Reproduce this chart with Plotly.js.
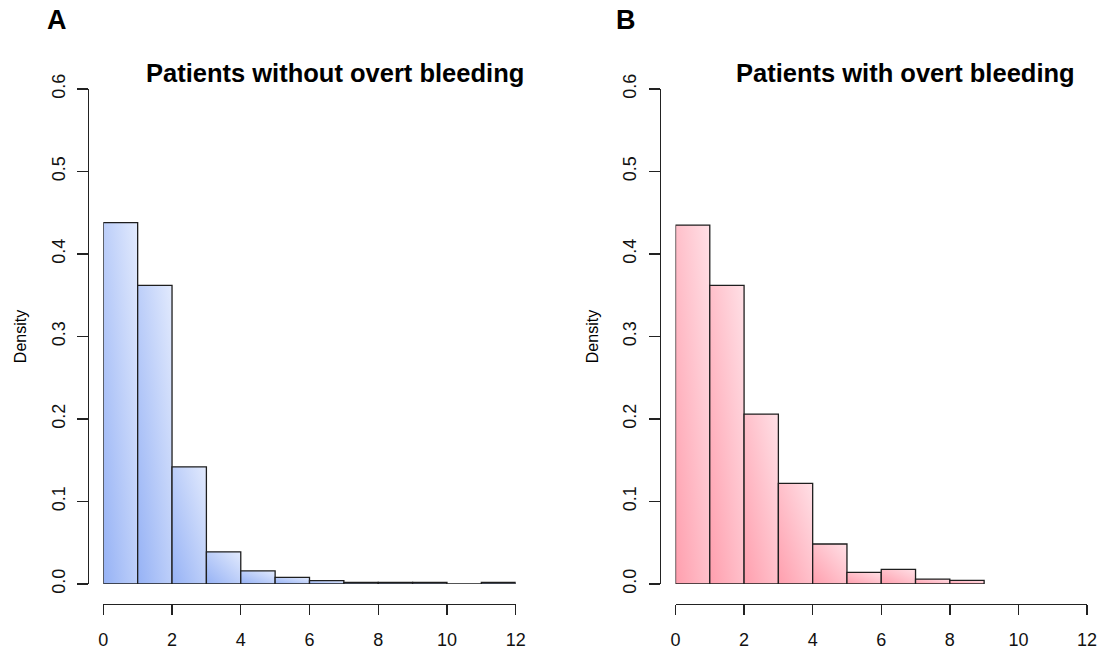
<!DOCTYPE html>
<html>
<head>
<meta charset="utf-8">
<script src="https://cdn.plot.ly/plotly-3.0.1.min.js"></script>
<style>
  html, body { margin: 0; padding: 0; background: #ffffff; }
  #chart { width: 1107px; height: 657px; }
</style>
</head>
<body>
<div id="chart"></div>
<script>
// ---- Data ----
const binEdgesA = [0, 1, 2, 3, 4, 5, 6, 7, 8, 9, 10, 11, 12];
const densityA  = [0.438, 0.362, 0.142, 0.039, 0.0158, 0.0081, 0.004, 0.002, 0.0019, 0.0019, 0.0002, 0.002];
const binEdgesB = [0, 1, 2, 3, 4, 5, 6, 7, 8, 9];
const densityB  = [0.435, 0.362, 0.206, 0.122, 0.0485, 0.0142, 0.0178, 0.006, 0.0045];
const xTicks = [0, 2, 4, 6, 8, 10, 12];
const yTicks = [0.0, 0.1, 0.2, 0.3, 0.4, 0.5, 0.6];
const titleA = "Patients without overt bleeding";
const titleB = "Patients with overt bleeding";
const panelA = "A";
const panelB = "B";
const yLabel = "Density";

// ---- Layout helpers ----
const W = 1107, H = 657;
const px = v => v / W;
const py = v => 1 - v / H;

function centers(edges) {
  const c = [];
  for (let i = 0; i < edges.length - 1; i++) c.push((edges[i] + edges[i + 1]) / 2);
  return c;
}
function widths(edges) {
  const w = [];
  for (let i = 0; i < edges.length - 1; i++) w.push(edges[i + 1] - edges[i]);
  return w;
}

const barLine = { color: '#1e1e1e', width: 1.3 };

const traces = [
  {
    type: 'bar', x: centers(binEdgesA), y: densityA, width: widths(binEdgesA),
    xaxis: 'x', yaxis: 'y',
    marker: { color: '#b9cdf9', line: barLine },
    hoverinfo: 'x+y', showlegend: false
  },
  {
    type: 'bar', x: centers(binEdgesB), y: densityB, width: widths(binEdgesB),
    xaxis: 'x2', yaxis: 'y2',
    marker: { color: '#ffc0ca', line: barLine },
    hoverinfo: 'x+y', showlegend: false
  }
];

const font = { family: 'Liberation Sans, Arial, sans-serif', color: '#000000' };
const tickFont = { family: font.family, size: 18, color: '#111111' };

function xAxis(domain) {
  return {
    domain: domain, range: [0, 12], anchor: 'free', position: py(603.5),
    showgrid: false, zeroline: false, showline: true, linecolor: '#222', linewidth: 1.4,
    ticks: 'outside', ticklen: 10, tickwidth: 1.4, tickcolor: '#222',
    tickvals: xTicks, ticktext: xTicks.map(String), tickfont: tickFont,
    ticklabelstandoff: 9, fixedrange: true
  };
}
function yAxis(posX) {
  return {
    domain: [py(584), py(89)], range: [0, 0.6], anchor: 'free', position: px(posX),
    showgrid: false, zeroline: false, showline: true, linecolor: '#222', linewidth: 1.4,
    ticks: 'outside', ticklen: 11, tickwidth: 1.4, tickcolor: '#222',
    tickvals: yTicks, ticktext: yTicks.map(v => v.toFixed(1)), tickfont: tickFont,
    tickangle: -90, ticklabelstandoff: 5,
    title: { text: yLabel, font: { family: font.family, size: 16, color: '#000' }, standoff: 16 },
    fixedrange: true
  };
}

const layout = {
  width: W, height: H,
  margin: { l: 0, r: 0, t: 0, b: 0 },
  paper_bgcolor: '#ffffff', plot_bgcolor: 'rgba(0,0,0,0)',
  bargap: 0,
  xaxis: xAxis([px(103.3), px(515.7)]),
  yaxis: yAxis(87.7),
  xaxis2: xAxis([px(675.5), px(1087)]),
  yaxis2: yAxis(659.5),
  annotations: [
    { text: '<b>' + panelA + '</b>', x: px(57), y: py(20), xref: 'paper', yref: 'paper',
      showarrow: false, xanchor: 'center', yanchor: 'middle', font: { family: font.family, size: 27, color: '#000' } },
    { text: '<b>' + panelB + '</b>', x: px(626), y: py(20), xref: 'paper', yref: 'paper',
      showarrow: false, xanchor: 'center', yanchor: 'middle', font: { family: font.family, size: 27, color: '#000' } },
    { text: '<b>' + titleA + '</b>', x: px(335), y: py(73), xref: 'paper', yref: 'paper',
      showarrow: false, xanchor: 'center', yanchor: 'middle', font: { family: font.family, size: 25.5, color: '#000' } },
    { text: '<b>' + titleB + '</b>', x: px(905), y: py(73), xref: 'paper', yref: 'paper',
      showarrow: false, xanchor: 'center', yanchor: 'middle', font: { family: font.family, size: 25.5, color: '#000' } }
  ]
};

function addGradients(gd) {
  const svg = gd.querySelector('svg.main-svg');
  if (!svg) return;
  const NS = 'http://www.w3.org/2000/svg';
  let defs = svg.querySelector('defs');
  if (!defs) { defs = document.createElementNS(NS, 'defs'); svg.insertBefore(defs, svg.firstChild); }
  function grad(id, dark, light) {
    const g = document.createElementNS(NS, 'linearGradient');
    g.setAttribute('id', id);
    g.setAttribute('x1', '0'); g.setAttribute('y1', '1');
    g.setAttribute('x2', '1'); g.setAttribute('y2', '0');
    const s1 = document.createElementNS(NS, 'stop');
    s1.setAttribute('offset', '0'); s1.setAttribute('stop-color', dark);
    const s2 = document.createElementNS(NS, 'stop');
    s2.setAttribute('offset', '1'); s2.setAttribute('stop-color', light);
    g.appendChild(s1); g.appendChild(s2);
    defs.appendChild(g);
  }
  grad('gradBlue', '#96b2f5', '#e2eafd');
  grad('gradPink', '#ff9fae', '#ffe0e6');
  const subA = gd.querySelector('.subplot.xy .barlayer');
  const subB = gd.querySelector('.subplot.x2y2 .barlayer');
  if (subA) subA.querySelectorAll('.point path').forEach(p => { p.style.fill = 'url(#gradBlue)'; });
  if (subB) subB.querySelectorAll('.point path').forEach(p => { p.style.fill = 'url(#gradPink)'; });
}

Plotly.newPlot('chart', traces, layout, { displayModeBar: false, staticPlot: true })
  .then(gd => addGradients(gd));
</script>
</body>
</html>
